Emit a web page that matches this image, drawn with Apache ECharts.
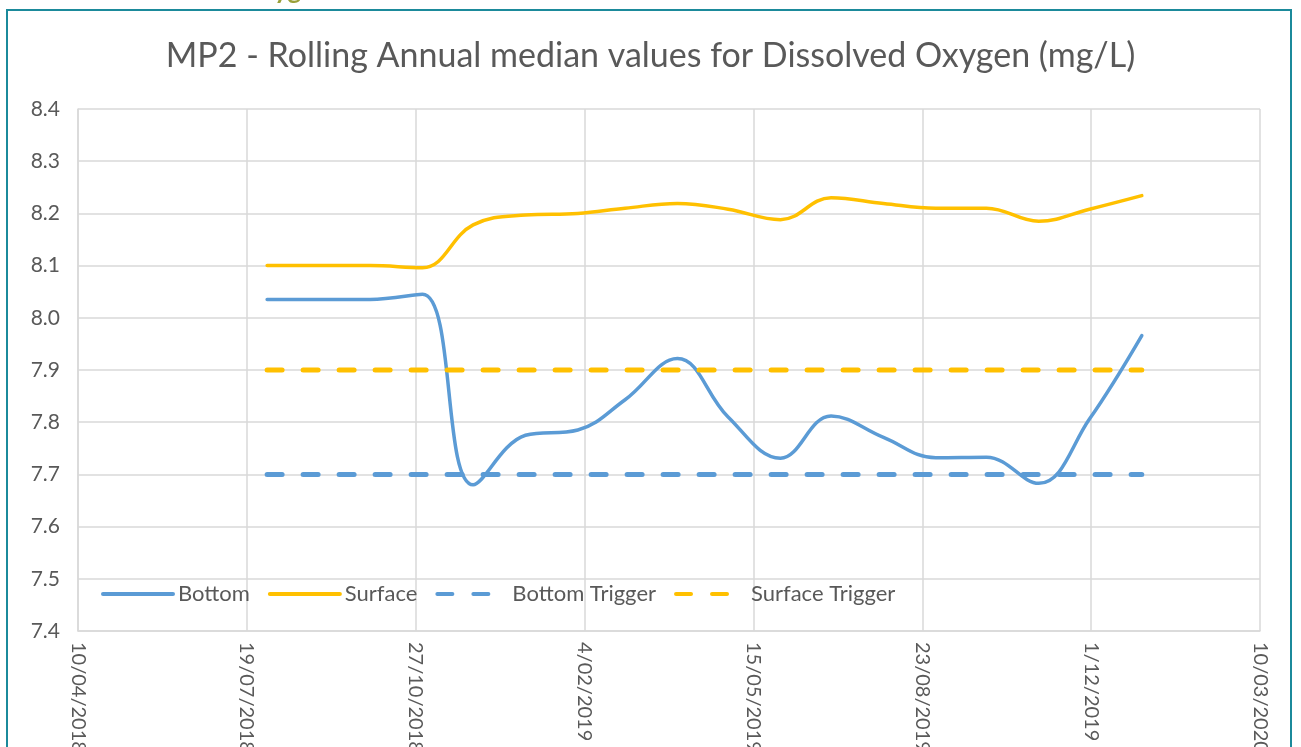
<!DOCTYPE html>
<html>
<head>
<meta charset="utf-8">
<script src="https://cdn.jsdelivr.net/npm/echarts@6/dist/echarts.min.js"></script>
<style>
  html, body { margin: 0; padding: 0; background: #fff; }
</style>
</head>
<body>

<!-- chart container, same size as the window -->
<div id="main" style="width: 1301px;height:747px;"></div>

<script type="text/javascript">
    // month-end sample dates
    var dates = ['2018-07-31', '2018-08-31', '2018-09-30', '2018-10-31', '2018-11-30', '2018-12-31',
                 '2019-01-31', '2019-02-28', '2019-03-31', '2019-04-30', '2019-05-31', '2019-06-30',
                 '2019-07-31', '2019-08-31', '2019-09-30', '2019-10-31', '2019-11-30', '2019-12-31'];

    // rolling annual medians (mg/L)
    var bottom  = [8.035, 8.035, 8.035, 8.045, 7.68, 7.775, 7.785, 7.843, 7.922, 7.81, 7.731, 7.812,
                   7.771, 7.732, 7.733, 7.683, 7.806, 7.966];
    var surface = [8.10, 8.10, 8.10, 8.096, 8.178, 8.197, 8.20, 8.21, 8.219, 8.208, 8.188, 8.23,
                   8.219, 8.21, 8.21, 8.185, 8.208, 8.234];
    var bottomTrigger  = [7.7, 7.7, 7.7, 7.7, 7.7, 7.7, 7.7, 7.7, 7.7, 7.7, 7.7, 7.7, 7.7, 7.7, 7.7, 7.7, 7.7, 7.7];
    var surfaceTrigger = [7.9, 7.9, 7.9, 7.9, 7.9, 7.9, 7.9, 7.9, 7.9, 7.9, 7.9, 7.9, 7.9, 7.9, 7.9, 7.9, 7.9, 7.9];

    // axis ticks (excel serial days) and value range
    var xTicks = { min: 43200, max: 43900, step: 100 };
    var yTicks = { min: 7.4, max: 8.4, step: 0.1 };

    // date string -> excel serial number
    function toSerial(s) {
        var p = s.split('-');
        return (Date.UTC(+p[0], +p[1] - 1, +p[2]) - Date.UTC(1899, 11, 30)) / 86400000;
    }
    // excel serial number -> d/mm/yyyy
    function fmtSerial(v) {
        var d = new Date(Date.UTC(1899, 11, 30) + v * 86400000);
        var m = d.getUTCMonth() + 1;
        return d.getUTCDate() + '/' + (m < 10 ? '0' + m : m) + '/' + d.getUTCFullYear();
    }
    function pairs(vals) {
        return dates.map(function (d, i) { return [toSerial(d), vals[i]]; });
    }

    var FONT = 'Lato';
    var GREY = '#595959';
    var GRIDC = '#d9d9d9';
    var BLUE = '#5b9bd5';
    var GOLD = '#ffc000';

    var myChart = echarts.init(document.getElementById('main'));

    var option = {
        animation: false,
        backgroundColor: '#fff',
        title: {
            text: 'MP2 - Rolling Annual median values for Dissolved Oxygen (mg/L)',
            left: 'center',
            top: 34,
            textStyle: { fontFamily: FONT, fontSize: 34, fontWeight: 'normal', color: GREY }
        },
        graphic: [
            {
                type: 'rect',
                z: -1,
                shape: { x: 7, y: 10, width: 1284, height: 800 },
                style: { fill: null, stroke: '#1b8a9b', lineWidth: 2 }
            },
            {
                type: 'text',
                style: {
                    x: 240, y: 4, text: 'Oxygen',
                    font: 'bold 26px Lato', fill: '#9aa03a',
                    textVerticalAlign: 'bottom'
                }
            }
        ],
        legend: {
            left: 96,
            top: 578,
            itemWidth: 70,
            itemHeight: 14,
            itemGap: 18,
            itemStyle: { opacity: 0 },
            lineStyle: { width: 4, cap: 'round' },
            textStyle: { fontFamily: FONT, fontSize: 22, color: GREY },
            data: ['Bottom', 'Surface', 'Bottom Trigger', 'Surface Trigger']
        },
        grid: { left: 78, right: 41, top: 109, bottom: 116, outerBoundsMode: 'none' },
        xAxis: {
            type: 'value',
            min: xTicks.min,
            max: xTicks.max,
            interval: xTicks.step,
            axisLine: { show: true, lineStyle: { color: GRIDC, width: 1.5 } },
            axisTick: { show: false },
            splitLine: { show: true, lineStyle: { color: GRIDC, width: 1.5 } },
            axisLabel: {
                rotate: -90,
                margin: 11,
                fontFamily: FONT, fontSize: 20, color: GREY,
                showMinLabel: true, showMaxLabel: true,
                formatter: fmtSerial
            }
        },
        yAxis: {
            type: 'value',
            min: yTicks.min,
            max: yTicks.max,
            interval: yTicks.step,
            axisLine: { show: true, lineStyle: { color: GRIDC, width: 1.5 } },
            axisTick: { show: false },
            splitLine: { show: true, lineStyle: { color: GRIDC, width: 1.5 } },
            axisLabel: {
                margin: 18,
                fontFamily: FONT, fontSize: 21, color: GREY,
                formatter: function (v) { return v.toFixed(1); }
            }
        },
        series: [
            {
                name: 'Bottom', type: 'line', data: pairs(bottom),
                smooth: 0.4, symbol: 'none', showSymbol: false,
                color: BLUE, lineStyle: { color: BLUE, width: 3.5, cap: 'round' }
            },
            {
                name: 'Surface', type: 'line', data: pairs(surface),
                smooth: 0.4, symbol: 'none', showSymbol: false,
                color: GOLD, lineStyle: { color: GOLD, width: 3.5, cap: 'round' }
            },
            {
                name: 'Bottom Trigger', type: 'line', data: pairs(bottomTrigger),
                symbol: 'none', showSymbol: false,
                color: BLUE, lineStyle: { color: BLUE, width: 5, type: [15, 21], cap: 'round' }
            },
            {
                name: 'Surface Trigger', type: 'line', data: pairs(surfaceTrigger),
                symbol: 'none', showSymbol: false,
                color: GOLD, lineStyle: { color: GOLD, width: 5, type: [15, 21], cap: 'round' }
            }
        ]
    };

    myChart.setOption(option);
</script>

</body>
</html>
